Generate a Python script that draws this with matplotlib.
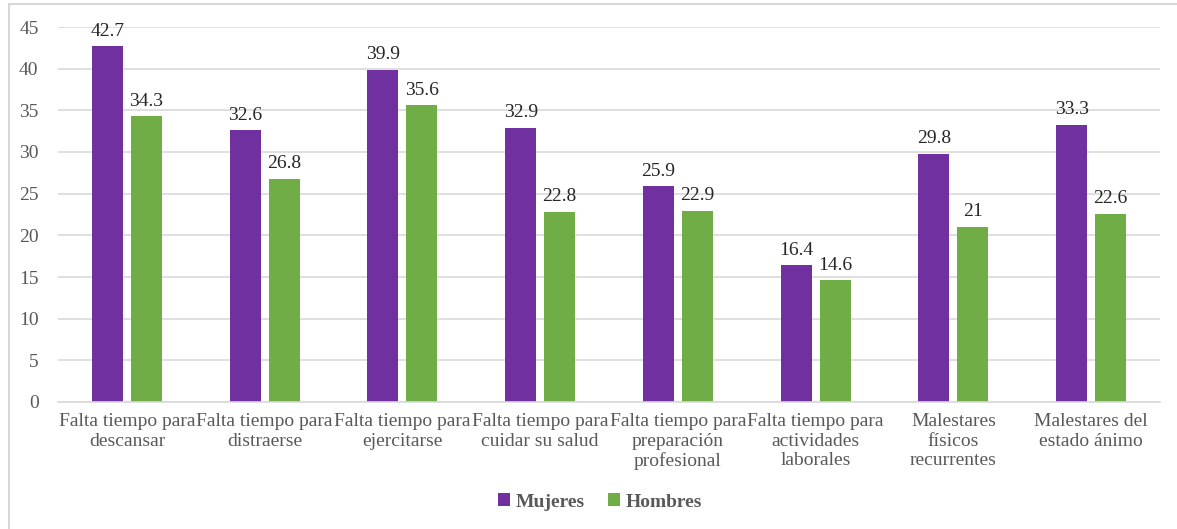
import matplotlib
matplotlib.use("Agg")
import matplotlib.pyplot as plt
import numpy as np
from matplotlib.patches import Rectangle
from matplotlib import font_manager

categorias = [
    "Falta tiempo para\ndescansar",
    "Falta tiempo para\ndistraerse",
    "Falta tiempo para\nejercitarse",
    "Falta tiempo para\ncuidar su salud",
    "Falta tiempo para\npreparación\nprofesional",
    "Falta tiempo para\nactividades\nlaborales",
    "Malestares\nfísicos\nrecurrentes",
    "Malestares del\nestado ánimo",
]
mujeres = [42.7, 32.6, 39.9, 32.9, 25.9, 16.4, 29.8, 33.3]
hombres = [34.3, 26.8, 35.6, 22.8, 22.9, 14.6, 21, 22.6]

nombres = {f.name for f in font_manager.fontManager.ttflist}
serif = 'Liberation Serif' if 'Liberation Serif' in nombres else 'DejaVu Serif'
plt.rcParams['font.family'] = [serif, 'DejaVu Serif']

fig = plt.figure(figsize=(11.77, 5.29), dpi=100)
ax = fig.add_axes([58 / 1177, 1 - 402 / 529, 1102 / 1177, 375 / 529])

# marco del gráfico
fig.patches.append(Rectangle((9 / 1177, -0.1), 1.2, 1 - 4 / 529 + 0.1,
                             transform=fig.transFigure, fill=False,
                             edgecolor='#d0d0d0', linewidth=1.2))

x = np.arange(len(categorias))
w = 0.225
gap = 0.058
b1 = ax.bar(x - (w + gap) / 2, mujeres, w, color='#7030A0', label='Mujeres')
b2 = ax.bar(x + (w + gap) / 2, hombres, w, color='#70AD47', label='Hombres')

for bars, vals in ((b1, mujeres), (b2, hombres)):
    for b, v in zip(bars, vals):
        ax.text(b.get_x() + b.get_width() / 2, v + 0.8, f"{v:g}",
                ha='center', va='bottom', fontsize=14, color='#262626')

ax.set_xlim(-0.5, len(categorias) - 0.5)
ax.set_ylim(0, 45)
ax.set_yticks(range(0, 46, 5))
ax.yaxis.grid(True, color='#d9d9d9', linewidth=1.2)
ax.set_axisbelow(True)
for s in ['top', 'right', 'left']:
    ax.spines[s].set_visible(False)
ax.spines['bottom'].set_color('#d9d9d9')
ax.spines['bottom'].set_linewidth(1.2)
ax.tick_params(axis='both', length=0, labelsize=14, colors='#595959')
ax.tick_params(axis='y', pad=14)
ax.tick_params(axis='x', pad=8)
ax.set_xticks(x)
ax.set_xticklabels(categorias, linespacing=1.2)

leg = fig.legend(loc='center', bbox_to_anchor=(600 / 1177, 1 - 502 / 529), ncol=2,
                 frameon=False, handlelength=0.6, handleheight=0.6,
                 handletextpad=0.3, columnspacing=1.2,
                 prop={'weight': 'bold', 'size': 14})
for t in leg.get_texts():
    t.set_color('#595959')

fig.savefig("out.png", dpi=100)
